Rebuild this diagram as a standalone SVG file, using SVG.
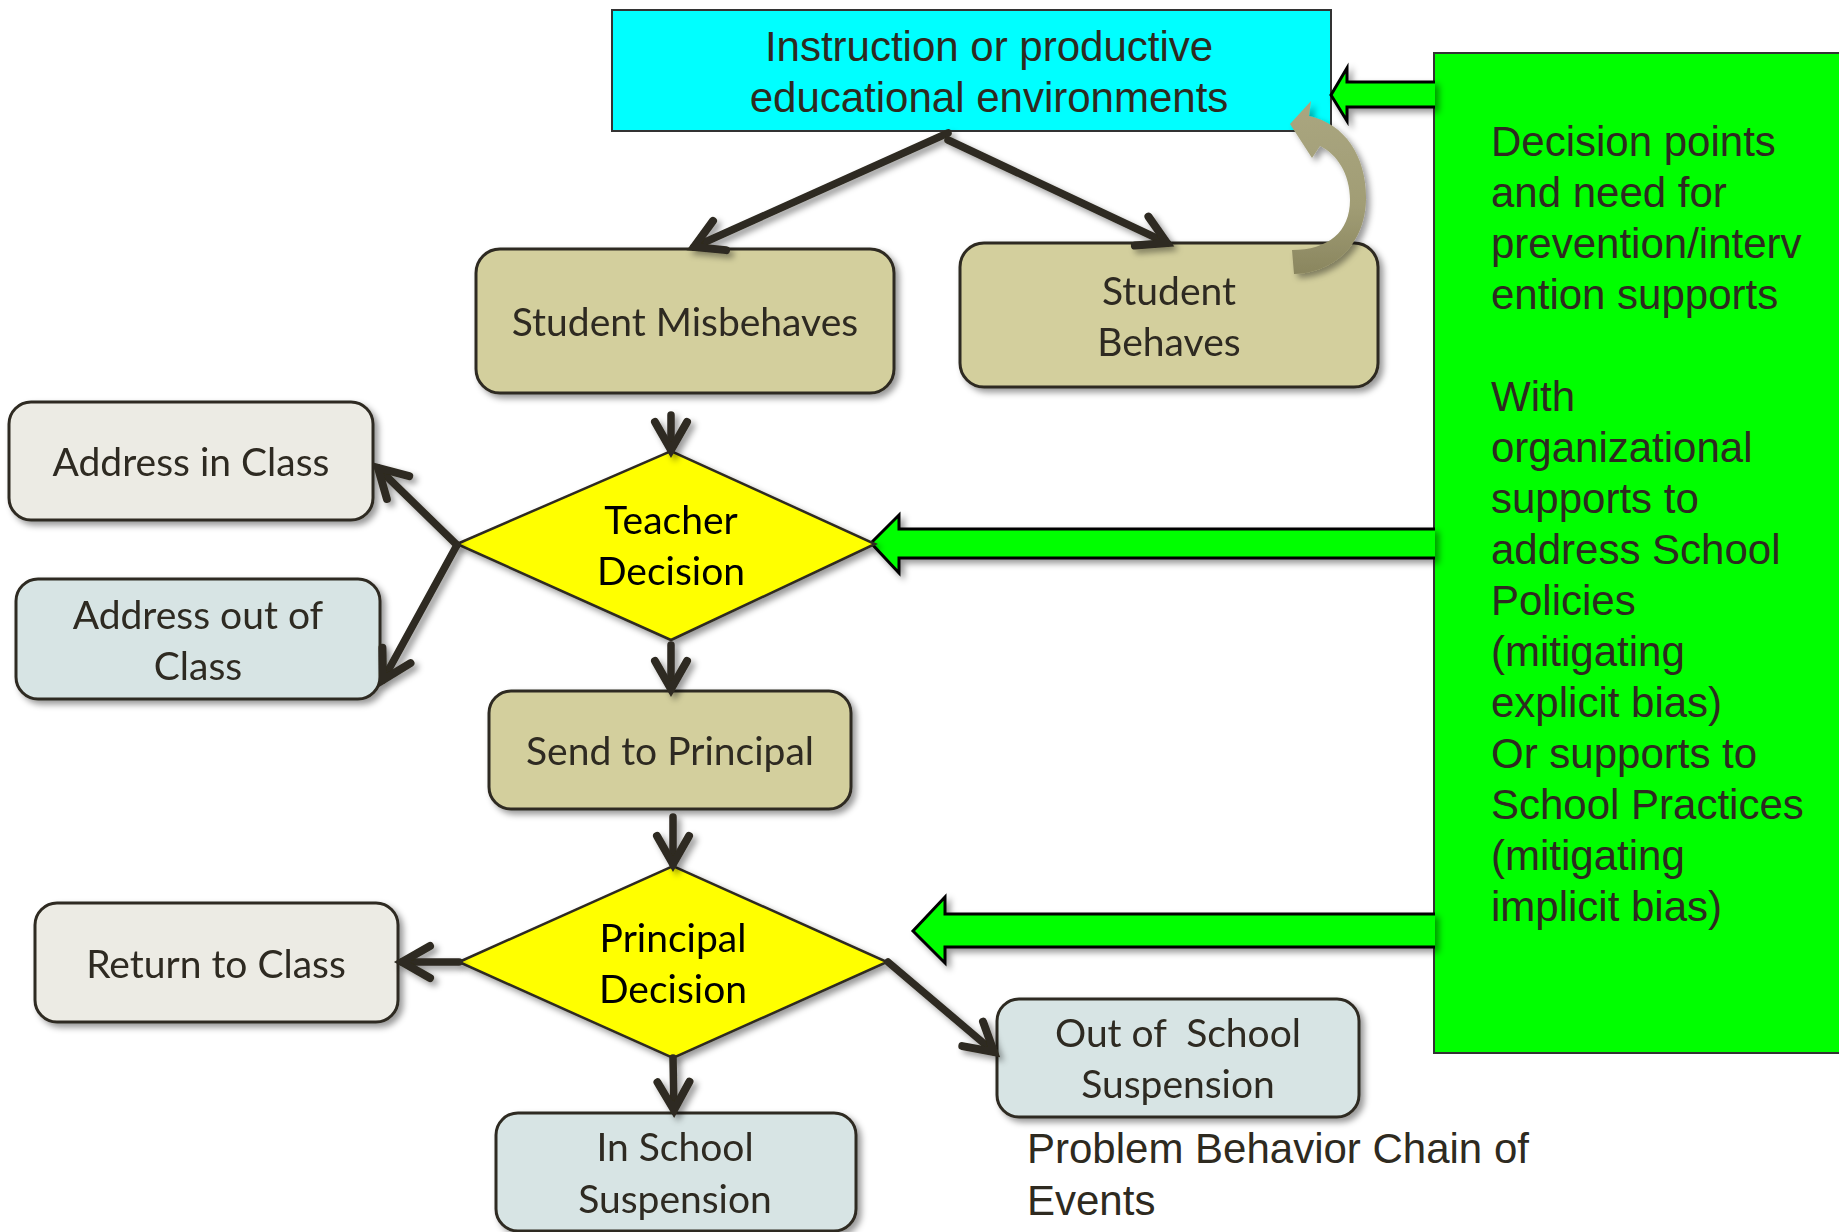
<svg xmlns="http://www.w3.org/2000/svg" width="1839" height="1232" viewBox="0 0 1839 1232">
<defs>
<style>
.box{stroke:#2e2a20;stroke-width:3}
.tan{fill:#d3cf9d}
.gray{fill:#ecebe4}
.blue{fill:#d7e4e4}
.dia{fill:#ffff00;stroke:#2e2a20;stroke-width:2.5}
.ntext{font-family:Lato,"Open Sans",sans-serif;font-size:39px;fill:#2e2a20;text-anchor:middle}
.dtext{font-family:Lato,"Open Sans",sans-serif;font-size:39px;fill:#000;text-anchor:middle}
.atext{font-family:"Liberation Sans",Arial,sans-serif;font-size:42px;fill:#2e2a20}
.conn{stroke:#2e2a20;stroke-width:7.5;fill:none;stroke-linecap:round}
.garrow{fill:#00ff00;stroke:#000;stroke-width:3;stroke-linejoin:miter}
</style>
<filter id="sh" x="-10%" y="-10%" width="130%" height="130%">
<feDropShadow dx="4" dy="4" stdDeviation="3" flood-color="#000" flood-opacity="0.4"/>
</filter>
<linearGradient id="loopg" x1="0" y1="0" x2="0" y2="1">
<stop offset="0" stop-color="#aaa680"/>
<stop offset="0.6" stop-color="#a19d75"/>
<stop offset="1" stop-color="#8a865f"/>
</linearGradient>
<marker id="chev" markerUnits="userSpaceOnUse" viewBox="-40 -25 50 50" markerWidth="50" markerHeight="50" refX="0" refY="0" orient="auto">
<path d="M-28,-16 L0,0 L-28,16" fill="none" stroke="#2e2a20" stroke-width="8" stroke-linecap="round" stroke-linejoin="miter"/>
</marker>
</defs>
<rect width="1839" height="1232" fill="#ffffff"/>

<g id="support-box">
<rect x="1434" y="53" width="420" height="1000" fill="#00ff00" stroke="#333" stroke-width="2"/>
<text class="atext">
<tspan x="1491" y="156">Decision points</tspan>
<tspan x="1491" y="207">and need for</tspan>
<tspan x="1491" y="258">prevention/interv</tspan>
<tspan x="1491" y="309">ention supports</tspan>
<tspan x="1491" y="411">With</tspan>
<tspan x="1491" y="462">organizational</tspan>
<tspan x="1491" y="513">supports to</tspan>
<tspan x="1491" y="564">address School</tspan>
<tspan x="1491" y="615">Policies</tspan>
<tspan x="1491" y="666">(mitigating</tspan>
<tspan x="1491" y="717">explicit bias)</tspan>
<tspan x="1491" y="768">Or supports to</tspan>
<tspan x="1491" y="819">School Practices</tspan>
<tspan x="1491" y="870">(mitigating</tspan>
<tspan x="1491" y="921">implicit bias)</tspan>
</text>
</g>

<g id="instruction">
<rect x="612" y="10" width="719" height="121" fill="#00ffff" stroke="#333" stroke-width="2"/>
<text class="atext" text-anchor="middle"><tspan x="989" y="61">Instruction or productive</tspan><tspan x="989" y="112">educational environments</tspan></text>
</g>

<g id="green-arrows" filter="url(#sh)">
<path class="garrow" d="M1435,82 L1347,82 L1347,68 L1331,95 L1347,121 L1347,107 L1435,107"/>
<path class="garrow" d="M1435,529 L899,529 L899,515 L871,543 L899,573 L899,558 L1435,558"/>
<path class="garrow" d="M1435,914 L945,914 L945,897 L913,931 L945,963 L945,947 L1435,947"/>
</g>

<g id="student-misbehaves" filter="url(#sh)">
<rect class="box tan" x="476" y="249" width="418" height="144" rx="24"/>
<text class="ntext" x="685" y="336">Student Misbehaves</text>
</g>

<g id="student-behaves" filter="url(#sh)">
<rect class="box tan" x="960" y="243" width="418" height="144" rx="24"/>
<text class="ntext"><tspan x="1169" y="305">Student</tspan><tspan x="1169" y="356">Behaves</tspan></text>
</g>

<g id="address-in-class" filter="url(#sh)">
<rect class="box gray" x="9" y="402" width="364" height="118" rx="22"/>
<text class="ntext" x="191" y="476">Address in Class</text>
</g>

<g id="address-out-class" filter="url(#sh)">
<rect class="box blue" x="16" y="579" width="364" height="120" rx="22"/>
<text class="ntext"><tspan x="198" y="629">Address out of</tspan><tspan x="198" y="680">Class</tspan></text>
</g>

<g id="teacher-decision" filter="url(#sh)">
<polygon class="dia" points="457,544 671,451 875,544 671,640"/>
<text class="dtext"><tspan x="671" y="534">Teacher</tspan><tspan x="671" y="585">Decision</tspan></text>
</g>

<g id="send-to-principal" filter="url(#sh)">
<rect class="box tan" x="489" y="691" width="362" height="118" rx="22"/>
<text class="ntext" x="670" y="765">Send to Principal</text>
</g>

<g id="principal-decision" filter="url(#sh)">
<polygon class="dia" points="459,962 673,866 887,962 673,1058"/>
<text class="dtext"><tspan x="673" y="952">Principal</tspan><tspan x="673" y="1003">Decision</tspan></text>
</g>

<g id="return-to-class" filter="url(#sh)">
<rect class="box gray" x="35" y="903" width="363" height="119" rx="22"/>
<text class="ntext" x="216" y="978">Return to Class</text>
</g>

<g id="in-school" filter="url(#sh)">
<rect class="box blue" x="496" y="1113" width="360" height="118" rx="22"/>
<text class="ntext"><tspan x="675" y="1161">In School</tspan><tspan x="675" y="1213">Suspension</tspan></text>
</g>

<g id="out-of-school" filter="url(#sh)">
<rect class="box blue" x="997" y="999" width="362" height="118" rx="22"/>
<text class="ntext" xml:space="preserve"><tspan x="1178" y="1047">Out of  School</tspan><tspan x="1178" y="1098">Suspension</tspan></text>
</g>

<g id="loop-arrow" filter="url(#sh)">
<path d="M1292,250 C1328,250 1350,232 1350,200 C1350,174 1337,154 1320,146 L1312,158 L1290,124 L1311,101 L1309,116 C1346,124 1367,158 1366,200 C1365,244 1334,273 1294,274 Z" fill="url(#loopg)"/>
</g>

<g id="connectors" filter="url(#sh)">
<path class="conn" d="M948,133 L694,247" marker-end="url(#chev)"/>
<path class="conn" d="M948,140 L1167,243" marker-end="url(#chev)"/>
<path class="conn" d="M671,415 L671,450" marker-end="url(#chev)"/>
<path class="conn" d="M457,545 L378,468" marker-end="url(#chev)"/>
<path class="conn" d="M457,545 L383,680" marker-end="url(#chev)"/>
<path class="conn" d="M671,645 L671,689" marker-end="url(#chev)"/>
<path class="conn" d="M673,817 L673,864" marker-end="url(#chev)"/>
<path class="conn" d="M459,962 L402,962" marker-end="url(#chev)"/>
<path class="conn" d="M673,1058 L674,1110" marker-end="url(#chev)"/>
<path class="conn" d="M888,962 L994,1052" marker-end="url(#chev)"/>
</g>

<g id="caption">
<text class="atext"><tspan x="1027" y="1163">Problem Behavior Chain of</tspan><tspan x="1027" y="1215">Events</tspan></text>
</g>
</svg>
